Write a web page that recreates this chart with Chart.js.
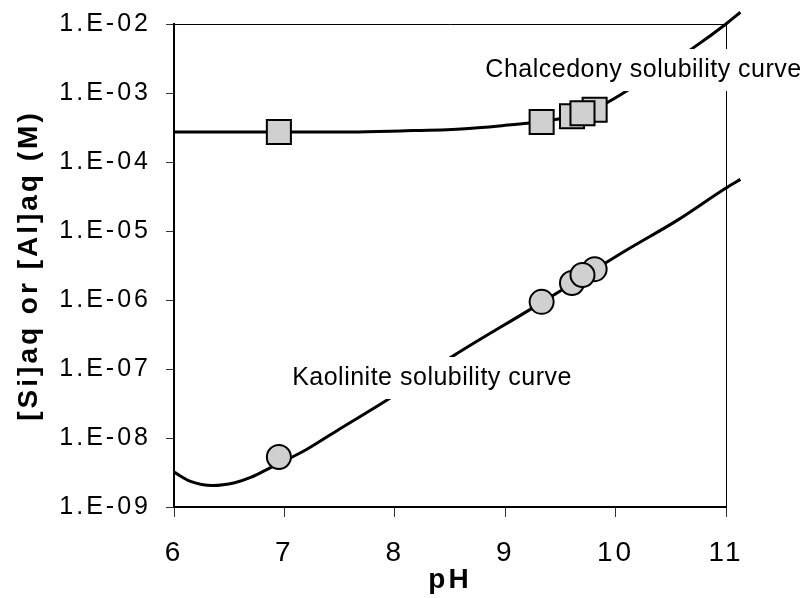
<!DOCTYPE html>
<html>
<head>
<meta charset="utf-8">
<script src="https://cdn.jsdelivr.net/npm/chart.js@4.4.0/dist/chart.umd.min.js"></script>
<style>
  html, body { margin: 0; padding: 0; background: #fff; }
  #wrap { width: 807px; height: 598px; }
</style>
</head>
<body>
<div id="wrap"><canvas id="solChart" width="807" height="598"></canvas></div>
<script>
// model solubility curves (pH vs molar concentration)
const kaolinitePH = [6.00, 6.15, 6.35, 6.55, 6.70, 6.87, 7.05, 7.20, 7.50, 7.93, 8.53, 9.22, 9.60, 10.10, 10.565, 11.00, 11.13];
const kaoliniteAl = [3.2e-9, 2.35e-9, 2.05e-9, 2.25e-9, 2.7e-9, 3.7e-9, 5.1e-9, 6.8e-9, 1.35e-8, 3.55e-8, 1.55e-7, 7.2e-7, 1.7e-6, 5.3e-6, 1.45e-5, 4.2e-5, 5.6e-5];
const chalcedonyPH = [6.0, 7.0, 7.6, 8.05, 8.6, 9.0, 9.3, 9.6, 9.8, 10.1, 10.4, 10.7, 11.0, 11.13];
const chalcedonySi = [2.72e-4, 2.72e-4, 2.72e-4, 2.82e-4, 3.02e-4, 3.4e-4, 3.8e-4, 4.57e-4, 5.75e-4, 1.07e-3, 2.19e-3, 4.47e-3, 1.0e-2, 1.48e-2];

// measured solutions
const samplePH = [6.95, 9.33, 9.605, 9.81, 9.70];
const sampleSi = [2.72e-4, 3.8e-4, 4.6e-4, 5.7e-4, 5.1e-4];
const sampleAl = [5.3e-9, 9.4e-7, 1.76e-6, 2.8e-6, 2.3e-6];

// axes
const xTicks = [6, 7, 8, 9, 10, 11];
const yTicks = [1e-9, 1e-8, 1e-7, 1e-6, 1e-5, 1e-4, 1e-3, 1e-2];
const yTickLabels = ['1.E-09', '1.E-08', '1.E-07', '1.E-06', '1.E-05', '1.E-04', '1.E-03', '1.E-02'];

const curveLabels = [
  { text: 'Chalcedony solubility curve', pH: 8.82, conc: 2.15e-3 },
  { text: 'Kaolinite solubility curve', pH: 7.07, conc: 7.4e-8 }
];

const FONT = '"Liberation Sans", Arial, Helvetica, sans-serif';
Chart.defaults.font.family = FONT;
Chart.defaults.color = '#000';

const toXY = (xs, ys) => xs.map((x, i) => ({ x: x, y: ys[i] }));

// plot frame on top/right plus the white-boxed curve names
const frameAndLabels = {
  id: 'frameAndLabels',
  beforeDraw(chart) {
    chart.ctx.letterSpacing = '3px';
  },
  beforeDatasetsDraw(chart) {
    const { ctx, chartArea: a } = chart;
    ctx.save();
    ctx.strokeStyle = '#000';
    ctx.lineWidth = 1;
    ctx.beginPath();
    ctx.moveTo(a.left, Math.round(a.top) + 0.5);
    ctx.lineTo(Math.round(a.right) + 0.5, Math.round(a.top) + 0.5);
    ctx.lineTo(Math.round(a.right) + 0.5, a.bottom);
    ctx.stroke();
    ctx.restore();
  },
  afterDatasetsDraw(chart) {
    const { ctx, scales } = chart;
    ctx.save();
    ctx.letterSpacing = '0.5px';
    ctx.font = '25px ' + FONT;
    ctx.textBaseline = 'middle';
    ctx.textAlign = 'left';
    curveLabels.forEach(l => {
      const px = scales.x.getPixelForValue(l.pH);
      const py = scales.y.getPixelForValue(l.conc);
      const w = ctx.measureText(l.text).width;
      ctx.fillStyle = '#fff';
      ctx.fillRect(px - 6, py - 21, w + 12, 42);
      ctx.fillStyle = '#000';
      ctx.fillText(l.text, px, py);
    });
    ctx.restore();
  }
};

new Chart(document.getElementById('solChart'), {
  type: 'scatter',
  data: {
    datasets: [
      {
        label: '[Al]aq',
        data: toXY(samplePH, sampleAl),
        pointStyle: 'circle',
        pointRadius: 12,
        pointBackgroundColor: '#d0d0d0',
        pointBorderColor: '#000',
        pointBorderWidth: 2,
        clip: false
      },
      {
        label: '[Si]aq',
        data: toXY(samplePH, sampleSi),
        pointStyle: 'rect',
        pointRadius: 17,
        pointBackgroundColor: '#d0d0d0',
        pointBorderColor: '#000',
        pointBorderWidth: 2,
        clip: false
      },
      {
        label: 'Kaolinite',
        data: toXY(kaolinitePH, kaoliniteAl),
        showLine: true,
        pointRadius: 0,
        borderColor: '#000',
        borderWidth: 3,
        cubicInterpolationMode: 'monotone',
        clip: false
      },
      {
        label: 'Chalcedony',
        data: toXY(chalcedonyPH, chalcedonySi),
        showLine: true,
        pointRadius: 0,
        borderColor: '#000',
        borderWidth: 3,
        cubicInterpolationMode: 'monotone',
        clip: false
      }
    ]
  },
  options: {
    responsive: false,
    animation: false,
    events: [],
    layout: { padding: { left: 0, top: 24, right: 81, bottom: 0 } },
    plugins: { legend: { display: false }, tooltip: { enabled: false } },
    scales: {
      x: {
        type: 'linear',
        // range set after data limits so the curves may run past pH 11
        afterDataLimits: s => { s.min = 6; s.max = 11; },
        afterBuildTicks: s => { s.ticks = xTicks.map(v => ({ value: v })); },
        afterFit: s => { s.height = 91; s.paddingLeft = 0; s.paddingRight = 0; },
        grid: { drawOnChartArea: false, drawTicks: true, tickLength: 10, color: '#333', lineWidth: 1 },
        border: { display: true, color: '#000', width: 2 },
        ticks: { font: { size: 28 }, padding: 19, maxRotation: 0 },
        title: { display: true, text: 'pH', font: { size: 28, weight: 'bold' }, padding: { top: 0, bottom: 1 } }
      },
      y: {
        type: 'logarithmic',
        afterDataLimits: s => { s.min = 1e-9; s.max = 1e-2; },
        afterBuildTicks: s => { s.ticks = yTicks.map(v => ({ value: v })); },
        afterFit: s => { s.width = 174; s.paddingTop = 0; s.paddingBottom = 0; },
        grid: { drawOnChartArea: false, drawTicks: true, tickLength: 8, color: '#333', lineWidth: 1 },
        border: { display: true, color: '#000', width: 2 },
        ticks: { font: { size: 25 }, padding: 15, callback: (v, i) => yTickLabels[i] },
        title: { display: true, text: '[Si]aq or [Al]aq (M)', font: { size: 28, weight: 'bold' }, padding: { top: 12, bottom: 0 } }
      }
    }
  },
  plugins: [frameAndLabels]
});
</script>
</body>
</html>
